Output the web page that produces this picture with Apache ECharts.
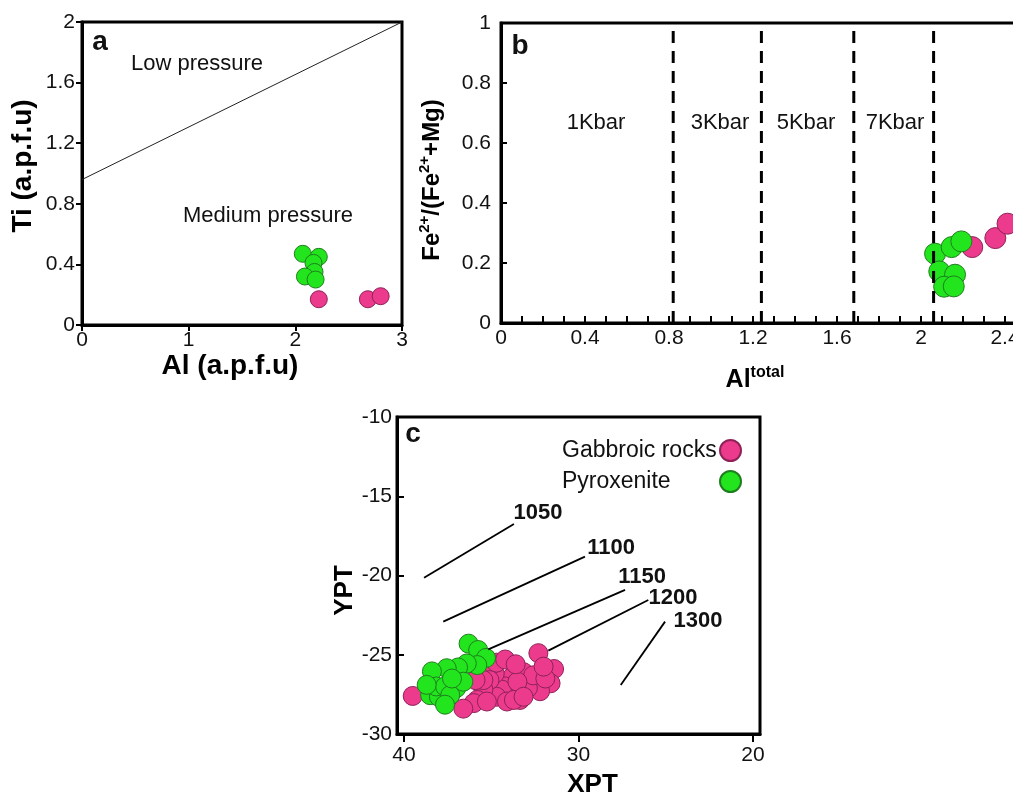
<!DOCTYPE html>
<html><head><meta charset="utf-8">
<script src="https://cdn.jsdelivr.net/npm/echarts@6/dist/echarts.min.js"></script>
<style>html,body{margin:0;padding:0;background:#fff}#chart{width:1013px;height:798px}</style>
</head><body><div id="chart"></div>
<script>
// ---------- Panel a ----------
const aXTickValues = [0, 1, 2, 3];
const aYTickValues = [0, 0.4, 0.8, 1.2, 1.6, 2];
const aBoundaryAl = [0, 3];
const aBoundaryTi = [0.96, 2];
const aGabbroAl = [2.22, 2.68, 2.80];
const aGabbroTi = [0.17, 0.17, 0.19];
const aPyroxAl = [2.07, 2.22, 2.17, 2.18, 2.09, 2.19];
const aPyroxTi = [0.47, 0.45, 0.41, 0.35, 0.32, 0.30];

// ---------- Panel b ----------
const bXLabelValues = [0, 0.4, 0.8, 1.2, 1.6, 2, 2.4, 2.8];
const bXTickValues = [0, 0.1, 0.2, 0.3, 0.4, 0.5, 0.6, 0.7, 0.8, 0.9, 1, 1.1, 1.2, 1.3, 1.4, 1.5, 1.6, 1.7, 1.8, 1.9, 2, 2.1, 2.2, 2.3, 2.4, 2.5, 2.6, 2.7, 2.8];
const bYTickValues = [0, 0.2, 0.4, 0.6, 0.8, 1];
const bPressureAl = [0.82, 1.24, 1.68, 2.06];
const bPressureNames = ['1Kbar', '3Kbar', '5Kbar', '7Kbar'];
const bGabbroAl = [2.244, 2.354, 2.412];
const bGabbroFe = [0.253, 0.283, 0.331];
const bPyroxAl = [2.067, 2.146, 2.192, 2.087, 2.162, 2.110, 2.156];
const bPyroxFe = [0.231, 0.253, 0.272, 0.172, 0.161, 0.121, 0.122];

// ---------- Panel c ----------
const cXTickValues = [20, 30, 40];
const cYTickValues = [-30, -25, -20, -15, -10];
const cIsothermNames = ['1050', '1100', '1150', '1200', '1300'];
const cIsothermX = [[38.85, 33.70], [37.75, 29.63], [35.17, 27.33], [31.73, 26.0], [27.58, 25.04]];
const cIsothermY = [[-20.14, -16.75], [-22.91, -18.81], [-24.66, -20.91], [-24.74, -21.55], [-26.91, -22.91]];
const cGabbroXPT = [39.5, 32.3, 31.4, 31.6, 32.2, 32.9, 33.35, 33.45, 33.8, 34.2, 34.4, 34.7, 34.1, 34.8, 35.1, 34.7, 33.15, 32.6, 31.9, 32.0, 33.5, 35.1, 35.45, 35.8, 36.0, 36.6, 35.25, 33.7, 33.15, 35.45, 35.9, 34.2, 33.6];
const cGabbroYPT = [-27.6, -24.9, -25.9, -26.8, -27.3, -27.1, -27.85, -26.3, -26.4, -27.0, -27.2, -27.65, -27.95, -26.2, -25.75, -25.5, -26.1, -26.3, -26.5, -25.75, -26.7, -26.6, -27.2, -27.85, -28.05, -28.4, -27.95, -27.85, -27.65, -26.6, -26.6, -25.3, -25.6];
const cPyroxXPT = [36.3, 35.75, 35.3, 35.8, 36.4, 36.9, 37.55, 38.4, 38.5, 38.0, 38.15, 37.65, 37.0, 37.35, 37.65, 36.6, 37.25, 38.7];
const cPyroxYPT = [-24.3, -24.7, -25.2, -25.65, -25.55, -25.8, -25.85, -26.05, -27.55, -27.65, -27.0, -27.0, -27.1, -27.55, -28.15, -26.7, -26.5, -26.9];

const seriesNames = ['Gabbroic rocks', 'Pyroxenite'];

// ---------- styles ----------
const FONT = '"Liberation Sans", Arial, Helvetica, sans-serif';
const PINK = '#EC3A8C', PINK_EDGE = '#8E2258';
const GREEN = '#22E51E', GREEN_EDGE = '#1F7E1D';
const zip = (xs, ys) => xs.map((x, i) => [x, ys[i]]);
const labelStyle = { color: '#111', fontSize: 21, fontFamily: FONT };
const titleStyle = { color: '#000', fontSize: 28, fontWeight: 'bold', fontFamily: FONT };
const axisLine = { show: true, onZero: false, lineStyle: { color: '#000', width: 3 } };

function valueAxis(gridIndex, o) {
  return Object.assign({
    type: 'value', gridIndex, splitLine: { show: false },
    axisLine, nameLocation: 'middle', nameTextStyle: titleStyle
  }, o);
}

const gabbroStyle = { color: PINK, borderColor: PINK_EDGE, borderWidth: 1, opacity: 1 };
const pyroxStyle = { color: GREEN, borderColor: GREEN_EDGE, borderWidth: 1, opacity: 1 };

const series = [];
// a
series.push({ type: 'line', xAxisIndex: 0, yAxisIndex: 0, data: zip(aBoundaryAl, aBoundaryTi), symbol: 'none', silent: true, lineStyle: { color: '#222', width: 1 } });
series.push({ name: seriesNames[0], type: 'scatter', xAxisIndex: 0, yAxisIndex: 0, data: zip(aGabbroAl, aGabbroTi), symbolSize: 17, itemStyle: gabbroStyle });
series.push({ name: seriesNames[1], type: 'scatter', xAxisIndex: 0, yAxisIndex: 0, data: zip(aPyroxAl, aPyroxTi), symbolSize: 17, itemStyle: pyroxStyle });
// b
bPressureAl.forEach(v => series.push({ type: 'line', xAxisIndex: 1, yAxisIndex: 1, data: [[v, 0], [v, 1]], symbol: 'none', silent: true, lineStyle: { color: '#000', width: 3, type: [12, 8] } }));
series.push({ name: seriesNames[0], type: 'scatter', xAxisIndex: 1, yAxisIndex: 1, data: zip(bGabbroAl, bGabbroFe), symbolSize: 21, itemStyle: gabbroStyle });
series.push({ name: seriesNames[1], type: 'scatter', xAxisIndex: 1, yAxisIndex: 1, data: zip(bPyroxAl, bPyroxFe), symbolSize: 21, itemStyle: pyroxStyle });
// c
cIsothermNames.forEach((n, i) => series.push({ type: 'line', xAxisIndex: 2, yAxisIndex: 2, data: zip(cIsothermX[i], cIsothermY[i]), symbol: 'none', silent: true, lineStyle: { color: '#000', width: 1.8 } }));
series.push({ name: seriesNames[0], type: 'scatter', xAxisIndex: 2, yAxisIndex: 2, data: zip(cGabbroXPT, cGabbroYPT), symbolSize: 19, itemStyle: gabbroStyle });
series.push({ name: seriesNames[1], type: 'scatter', xAxisIndex: 2, yAxisIndex: 2, data: zip(cPyroxXPT, cPyroxYPT), symbolSize: 19, itemStyle: pyroxStyle });

function txt(text, x, y, size, bold, extra) {
  return Object.assign({ type: 'text', x, y, silent: true, style: { text, fill: '#111', font: (bold ? 'bold ' : '') + size + 'px ' + FONT, align: 'center', verticalAlign: 'middle' } }, extra || {});
}

const kbarX = [596, 720, 806, 895];
const isoLabelPos = [[538, 513], [611, 548], [642, 577], [673, 598], [698, 621]];

const graphic = [
  txt('a', 100, 42, 28, true),
  txt('b', 520, 46, 28, true),
  txt('c', 413, 434, 28, true),
  txt('Low pressure', 197, 64, 22, false),
  txt('Medium pressure', 268, 216, 22, false),
  ...bPressureNames.map((n, i) => txt(n, kbarX[i], 123, 22, false)),
  ...cIsothermNames.map((n, i) => txt(n, isoLabelPos[i][0], isoLabelPos[i][1], 22, true)),
  { type: 'text', x: 755, y: 380, silent: true, style: {
      text: '{n|Al}{s|total}', align: 'center', verticalAlign: 'middle',
      rich: {
        n: { fontSize: 25, fontWeight: 'bold', fontFamily: FONT, fill: '#000', lineHeight: 30 },
        s: { fontSize: 16, fontWeight: 'bold', fontFamily: FONT, fill: '#000', verticalAlign: 'top' }
      } } }
];

const option = {
  animation: false,
  backgroundColor: '#fff',
  grid: [
    { left: 82, top: 22, width: 320, height: 303, show: true, borderColor: '#000', borderWidth: 3, backgroundColor: 'transparent', outerBoundsMode: 'none' },
    { left: 501, top: 23, width: 588, height: 300, show: true, borderColor: '#000', borderWidth: 3, backgroundColor: 'transparent', outerBoundsMode: 'none' },
    { left: 397, top: 417, width: 363, height: 317, show: true, borderColor: '#000', borderWidth: 3, backgroundColor: 'transparent', outerBoundsMode: 'none' }
  ],
  xAxis: [
    valueAxis(0, { min: 0, max: 3, name: 'Al (a.p.f.u)', nameGap: 22, nameTextStyle: Object.assign({}, titleStyle, { padding: [0, 24, 0, 0] }),
      axisTick: { show: true, inside: false, length: 6, lineStyle: { width: 2, color: '#000' }, customValues: aXTickValues },
      axisLabel: Object.assign({ margin: 5, customValues: aXTickValues }, labelStyle) }),
    valueAxis(1, { min: 0, max: 2.8, name: '',
      axisTick: { show: true, inside: true, length: 7, lineStyle: { width: 2, color: '#000' }, customValues: bXTickValues },
      axisLabel: Object.assign({ margin: 5, customValues: bXLabelValues }, labelStyle) }),
    valueAxis(2, { min: 19.6, max: 40.4, inverse: true, name: 'XPT', nameGap: 38, nameTextStyle: Object.assign({}, titleStyle, { fontSize: 26, padding: [0, 0, 0, 28] }),
      axisTick: { show: true, inside: false, length: 8, lineStyle: { width: 2, color: '#000' }, customValues: cXTickValues },
      axisLabel: Object.assign({ margin: 11, customValues: cXTickValues }, labelStyle) })
  ],
  yAxis: [
    valueAxis(0, { min: 0, max: 2, name: 'Ti (a.p.f.u)', nameGap: 45, nameTextStyle: Object.assign({}, titleStyle, { padding: [0, 0, 0, 15] }),
      axisTick: { show: true, inside: false, length: 6, lineStyle: { width: 2, color: '#000' }, customValues: aYTickValues },
      axisLabel: Object.assign({ margin: 7, customValues: aYTickValues }, labelStyle) }),
    valueAxis(1, { min: 0, max: 1, name: '{n|Fe}{s|2+}{n|/(Fe}{s|2+}{n|+Mg)}', nameGap: 54,
      nameTextStyle: { padding: [0, 14, 0, 0], rich: {
        n: { fontSize: 24, fontWeight: 'bold', fontFamily: FONT, color: '#000', lineHeight: 30 },
        s: { fontSize: 15, fontWeight: 'bold', fontFamily: FONT, color: '#000', verticalAlign: 'top' } } },
      axisTick: { show: true, inside: true, length: 6, lineStyle: { width: 2, color: '#000' }, customValues: bYTickValues },
      axisLabel: Object.assign({ margin: 10, customValues: bYTickValues }, labelStyle) }),
    valueAxis(2, { min: -30, max: -10, name: 'YPT', nameGap: 30, nameTextStyle: Object.assign({}, titleStyle, { fontSize: 26, padding: [0, 30, 0, 0] }),
      axisTick: { show: true, inside: true, length: 7, lineStyle: { width: 2, color: '#000' }, customValues: cYTickValues },
      axisLabel: Object.assign({ margin: 5, customValues: cYTickValues }, labelStyle) })
  ],
  legend: {
    data: seriesNames, orient: 'vertical', left: 557, top: 434, align: 'right',
    icon: 'circle', itemWidth: 21, itemHeight: 21, itemGap: 8, selectedMode: false,
    formatter: name => '{t|' + name + '}',
    textStyle: { fontSize: 23, fontFamily: FONT, color: '#111',
      rich: { t: { width: 153, align: 'left', fontSize: 23, fontFamily: FONT, color: '#111', lineHeight: 22 } } }
  },
  graphic,
  series
};

const chart = echarts.init(document.getElementById('chart'), null, { renderer: 'canvas' });
chart.setOption(option);
</script>
</body></html>
